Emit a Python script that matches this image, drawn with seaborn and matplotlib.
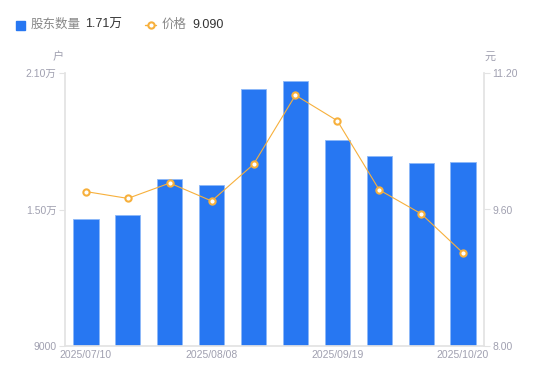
import numpy as np
import pandas as pd
import seaborn as sns
import matplotlib.pyplot as plt
from matplotlib.lines import Line2D
from matplotlib.patches import Rectangle

# data
holders = [14600, 14760, 16350, 16080, 20300, 20650, 18060, 17370, 17040, 17100]
price = [9.81, 9.73, 9.91, 9.70, 10.13, 10.94, 10.64, 9.83, 9.55, 9.09]
tick_pos = [0, 3, 6, 9]
tick_labels = ["2025/07/10", "2025/08/08", "2025/09/19", "2025/10/20"]
left_ticks = [9000, 15000, 21000]
left_tick_labels = ["9000", "1.50万", "2.10万"]
right_ticks = [8.00, 9.60, 11.20]

df = pd.DataFrame({"idx": np.arange(len(holders)), "holders": holders, "price": price})

sns.set_theme(style="white")
plt.rcParams["font.family"] = ["Liberation Sans", "Noto Sans CJK SC", "DejaVu Sans"]

blue = "#2777F2"
orange = "#F7B03C"
grey_txt = "#A0A0B0"
axis_col = "#E3E3E3"

fig = plt.figure(figsize=(5.5, 3.81), dpi=100)
ax = fig.add_axes([65 / 550, 35 / 381, 419 / 550, 273 / 381])

sns.barplot(data=df, x="idx", y="holders", color=blue, width=0.6,
            saturation=1, edgecolor="#8DB8F8", linewidth=0.6, ax=ax)
ax.set_ylim(9000, 21000)
ax.set_xlim(-0.5, len(holders) - 0.5)
ax.set_yticks(left_ticks)
ax.set_yticklabels(left_tick_labels)
ax.set_xticks(tick_pos)
ax.set_xticklabels(tick_labels)
ax.set_xlabel("")
ax.set_ylabel("")

ax2 = ax.twinx()
sns.lineplot(data=df, x="idx", y="price", color=orange, linewidth=0.8,
             marker="o", markersize=4.5, markerfacecolor="white",
             markeredgecolor=orange, markeredgewidth=1.5, ax=ax2)
ax2.set_ylim(8.0, 11.2)
ax2.set_yticks(right_ticks)
ax2.set_yticklabels([f"{v:.2f}" for v in right_ticks])
ax2.set_ylabel("")
ax2.set_xlim(-0.5, len(holders) - 0.5)

for a in (ax, ax2):
    for s in a.spines.values():
        s.set_visible(False)
    a.grid(False)
ax.spines["left"].set_visible(True)
ax.spines["left"].set_color(axis_col)
ax.spines["bottom"].set_visible(True)
ax.spines["bottom"].set_color(axis_col)
ax2.spines["right"].set_visible(True)
ax2.spines["right"].set_color(axis_col)

ax.tick_params(axis="y", length=4, width=0.8, color=axis_col, labelsize=7.5,
               labelcolor=grey_txt, pad=2, left=True)
ax.tick_params(axis="x", length=0, labelsize=7.5, labelcolor=grey_txt, pad=3)
ax2.tick_params(axis="y", length=4, width=0.8, color=axis_col, labelsize=7.5,
                labelcolor=grey_txt, pad=2, right=True)

fig.text(58 / 550, 1 - 57 / 381, "户", fontsize=8, color=grey_txt, ha="center", va="center")
fig.text(490 / 550, 1 - 57 / 381, "元", fontsize=8, color=grey_txt, ha="center", va="center")

# legend row
ly = 1 - 25 / 381
fig.patches.append(Rectangle((16 / 550, 1 - 29.5 / 381), 9 / 550, 9 / 381,
                             transform=fig.transFigure, color=blue))
fig.text(31 / 550, ly, "股东数量", fontsize=9, color="#888888", va="center")
fig.text(85 / 550, ly, "1.71万", fontsize=9, color="#333333", va="center")
fig.lines.append(Line2D([145 / 550, 156 / 550], [ly, ly], transform=fig.transFigure,
                        color=orange, linewidth=1))
fig.lines.append(Line2D([150.5 / 550], [ly], transform=fig.transFigure, color=orange,
                        marker="o", markersize=4.5, markerfacecolor="white",
                        markeredgewidth=1.5))
fig.text(162 / 550, ly, "价格", fontsize=9, color="#888888", va="center")
fig.text(192 / 550, ly, "9.090", fontsize=9, color="#333333", va="center")

fig.savefig("out.png", dpi=100)
